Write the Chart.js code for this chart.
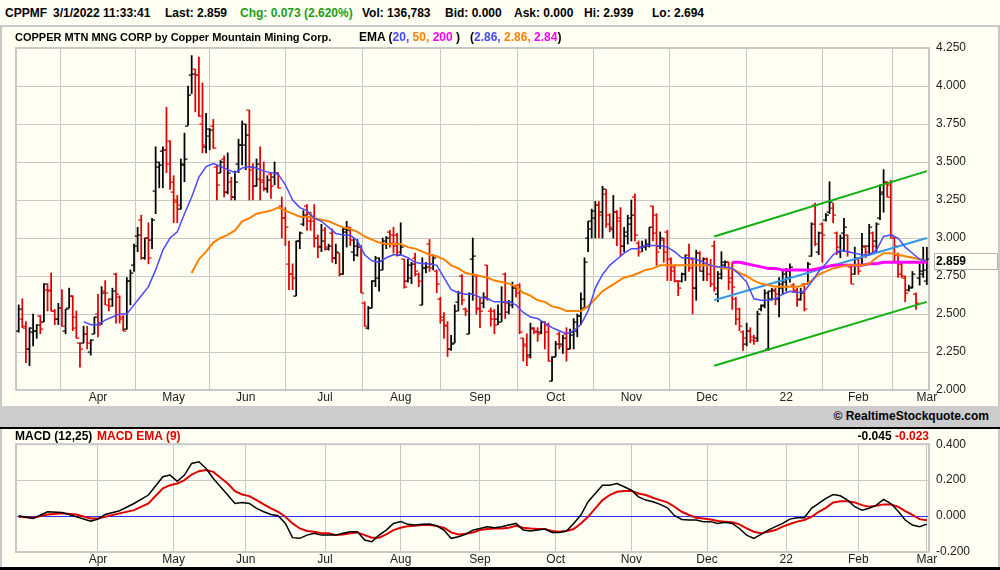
<!DOCTYPE html>
<html>
<head>
<meta charset="utf-8">
<script src="https://cdn.jsdelivr.net/npm/chart.js@4.4.1/dist/chart.umd.min.js"></script>
<style>
  body { margin: 0; width: 1000px; height: 570px; overflow: hidden; position: relative;
         background: #fffff4; font-family: "Liberation Sans", Arial, sans-serif; }
  .t { position: absolute; font-weight: bold; font-size: 12px; line-height: 14px; white-space: nowrap; color: #000; }
  .box { position: absolute; }
  canvas { position: absolute; left: 0; }
</style>
</head>
<body>
<div class="box" style="left:0;top:25px;width:1000px;height:2px;background:#c8c8c8"></div>
<div class="box" style="left:0;top:27px;width:2px;height:379px;background:#c8c8c8"></div>
<div class="box" style="left:998px;top:27px;width:2px;height:379px;background:#c8c8c8"></div>
<div class="box" style="left:0;top:406px;width:1000px;height:21px;background:#cccccc"></div>
<div class="box" style="left:0;top:427px;width:1000px;height:2px;background:#000"></div>
<div class="box" style="left:0;top:429px;width:2px;height:138px;background:#c8c8c8"></div>
<div class="box" style="left:998px;top:429px;width:2px;height:138px;background:#c8c8c8"></div>
<div class="box" style="left:0;top:567px;width:1000px;height:3px;background:#000"></div>

<canvas id="main" width="1000" height="378" style="top:28px"></canvas>
<canvas id="macd" width="1000" height="137" style="top:430px"></canvas>

<div class="t" style="left:5px;top:6px">CPPMF</div>
<div class="t" style="left:53px;top:6px">3/1/2022 11:33:41</div>
<div class="t" style="left:165px;top:6px">Last: 2.859</div>
<div class="t" style="left:240px;top:6px;color:#1a9e1a">Chg: 0.073 (2.620%)</div>
<div class="t" style="left:362px;top:6px">Vol: 136,783</div>
<div class="t" style="left:445px;top:6px">Bid: 0.000</div>
<div class="t" style="left:514px;top:6px">Ask: 0.000</div>
<div class="t" style="left:584px;top:6px">Hi: 2.939</div>
<div class="t" style="left:652px;top:6px">Lo: 2.694</div>

<div class="t" style="left:15px;top:30px;font-size:11px">COPPER MTN MNG CORP by Copper Mountain Mining Corp.</div>
<div class="t" style="left:359px;top:30px">EMA (<span style="color:#4646ff">20,</span> <span style="color:#ff8000">50,</span> <span style="color:#ff00ff">200</span> )
  &nbsp;&nbsp;(<span style="color:#4646ff">2.86,</span> <span style="color:#ff8000">2.86,</span> <span style="color:#ff00ff">2.84</span>)</div>

<div class="t" style="right:11px;top:409px">© RealtimeStockquote.com</div>

<div class="t" style="left:15px;top:429px">MACD (12,25)</div>
<div class="t" style="left:97px;top:429px;color:#e00000">MACD EMA (9)</div>
<div class="t" style="right:71px;top:429px">-0.045 <span style="color:#e00000">-0.023</span></div>

<script>
Chart.defaults.font.family = '"Liberation Sans", Arial, sans-serif';
Chart.defaults.font.size = 12;
Chart.defaults.color = '#222';

// trading-day index of each month start, and its label
const monthDays = [22, 43, 63, 85, 106, 128, 149, 170, 191, 213, 233, 252];
const monthNames = ['Apr', 'May', 'Jun', 'Jul', 'Aug', 'Sep', 'Oct', 'Nov', 'Dec', '22', 'Feb', 'Mar'];

// daily OHLC, Mar 2021 - Mar 1 2022
const opens = [
  2.39,2.47,2.41,2.27,2.38,2.39,2.49,2.45,2.66,2.66, 2.52,2.47,2.54,2.39,2.54,2.62,2.41,2.31,2.31,2.37,
  2.25,2.37,2.50,2.44,2.65,2.56,2.60,2.76,2.61,2.48, 2.40,2.72,2.82,3.01,3.12,2.87,3.00,2.99,3.31,3.47,
  3.57,3.58,3.64,3.30,3.24,3.19,3.48,3.74,4.07,4.11, 4.07,3.75,3.60,3.67,3.74,3.47,3.43,3.52,3.30,3.37,
  3.27,3.49,3.61,3.61,3.84,3.47,3.34,3.39,3.38,3.32, 3.42,3.40,3.43,3.21,3.13,2.83,2.76,2.62,2.98,3.09,
  3.21,3.16,3.13,3.00,2.94,3.05,2.93,3.03,2.87,2.90, 2.76,3.04,3.07,2.91,2.89,2.95,2.57,2.41,2.54,2.72,
  2.74,2.79,2.96,3.04,3.02,3.02,2.89,2.86,2.72,2.74, 2.87,2.76,2.56,2.80,2.96,2.83,2.78,2.60,2.46,2.43,
  2.27,2.31,2.58,2.75,2.53,2.37,2.86,2.75,2.53,2.57, 2.82,2.52,2.52,2.47,2.45,2.76,2.51,2.56,2.68,2.69,
  2.34,2.29,2.23,2.40,2.39,2.38,2.45,2.43,2.06,2.22, 2.37,2.30,2.37,2.27,2.36,2.39,2.49,2.54,3.00,3.06,
  3.13,3.22,3.17,3.29,3.15,3.06,3.17,3.13,2.95,3.01, 3.13,3.27,2.97,2.94,2.94,2.95,3.21,3.15,2.95,2.99,
  3.04,2.86,2.81,2.72,2.72,2.76,2.89,2.86,2.67,2.90, 2.78,2.86,2.82,2.95,2.63,2.76,2.82,2.84,2.74,2.60,
  2.53,2.38,2.30,2.39,2.35,2.34,2.53,2.56,2.27,2.60, 2.65,2.60,2.67,2.71,2.74,2.69,2.66,2.60,2.70,2.70,
  2.88,3.22,2.91,3.09,3.12,3.17,3.20,3.03,2.91,3.03, 3.02,2.81,2.76,2.86,2.87,2.94,2.95,3.03,2.98,3.13,
  3.30,3.37,3.35,3.00,2.89,2.83,2.74,2.66,2.68,2.63, 2.74,2.76,2.72
];
const highs = [
  2.56,2.60,2.45,2.41,2.50,2.43,2.49,2.70,2.70,2.77, 2.53,2.57,2.66,2.53,2.67,2.62,2.52,2.31,2.42,2.42,
  2.33,2.48,2.63,2.68,2.72,2.60,2.67,2.77,2.62,2.49, 2.74,2.79,2.96,3.07,3.15,3.00,3.10,3.13,3.60,3.50,
  3.60,3.86,3.64,3.41,3.28,3.52,3.69,4.00,4.20,4.11, 4.19,4.02,3.82,3.72,3.78,3.48,3.51,3.54,3.56,3.40,
  3.44,3.65,3.77,3.75,3.84,3.49,3.52,3.60,3.50,3.41, 3.43,3.50,3.43,3.27,3.20,2.98,2.83,2.98,3.04,3.18,
  3.22,3.17,3.22,3.02,3.09,3.07,2.96,3.06,2.96,2.90, 3.07,3.11,3.07,3.00,2.99,2.95,2.58,2.55,2.72,2.88,
  2.87,3.00,3.01,3.05,3.07,3.03,3.10,2.86,2.86,2.84, 2.90,2.77,2.87,2.84,2.99,2.89,2.79,2.61,2.51,2.45,
  2.36,2.56,2.65,2.76,2.54,2.64,3.00,2.76,2.61,2.64, 2.82,2.54,2.53,2.56,2.68,2.77,2.59,2.71,2.69,2.70,
  2.34,2.37,2.44,2.41,2.41,2.45,2.45,2.44,2.22,2.32, 2.38,2.36,2.41,2.40,2.47,2.50,2.64,2.87,3.11,3.19,
  3.24,3.24,3.34,3.32,3.16,3.28,3.18,3.20,3.07,3.15, 3.25,3.29,2.98,2.98,2.99,3.07,3.21,3.16,3.04,3.00,
  3.05,2.87,2.82,2.72,2.77,2.89,2.96,2.87,2.92,2.91, 2.87,2.87,2.86,2.98,2.78,2.91,2.85,2.84,2.84,2.61,
  2.54,2.39,2.44,2.41,2.36,2.52,2.56,2.66,2.65,2.67, 2.67,2.74,2.79,2.80,2.83,2.70,2.67,2.67,2.70,2.84,
  3.10,3.23,3.04,3.10,3.16,3.37,3.23,3.04,3.02,3.13, 3.02,2.82,2.94,2.87,3.03,2.95,3.09,3.04,3.10,3.35,
  3.45,3.37,3.38,3.01,2.90,2.84,2.75,2.69,2.78,2.64, 2.83,2.94,2.939
];
const lows = [
  2.38,2.41,2.18,2.16,2.29,2.34,2.37,2.45,2.52,2.52, 2.43,2.43,2.42,2.37,2.54,2.39,2.34,2.15,2.31,2.27,
  2.23,2.37,2.35,2.43,2.56,2.52,2.55,2.44,2.44,2.39, 2.40,2.56,2.78,2.91,2.86,2.86,2.83,2.93,3.16,3.33,
  3.33,3.43,3.32,3.10,3.10,3.19,3.37,3.74,3.95,3.83, 3.80,3.56,3.56,3.58,3.59,3.25,3.43,3.27,3.29,3.25,
  3.25,3.43,3.48,3.45,3.25,3.25,3.34,3.25,3.31,3.30, 3.26,3.35,3.33,3.00,2.95,2.66,2.66,2.62,2.93,3.08,
  3.05,3.05,2.94,2.87,2.91,2.92,2.92,2.84,2.83,2.75, 2.76,2.94,2.95,2.85,2.88,2.64,2.42,2.40,2.54,2.68,
  2.65,2.79,2.93,2.94,2.90,2.88,2.89,2.67,2.71,2.70, 2.75,2.68,2.56,2.77,2.78,2.79,2.64,2.44,2.34,2.22,
  2.26,2.31,2.52,2.56,2.49,2.37,2.59,2.50,2.41,2.54, 2.59,2.42,2.37,2.43,2.45,2.47,2.50,2.54,2.61,2.37,
  2.19,2.16,2.21,2.37,2.32,2.37,2.27,2.19,2.06,2.22, 2.27,2.24,2.19,2.27,2.27,2.35,2.43,2.54,2.91,3.00,
  3.00,3.00,3.00,3.07,3.04,3.00,2.95,2.88,2.91,2.96, 2.98,2.98,2.88,2.91,2.92,2.94,2.98,2.82,2.93,2.84,
  2.72,2.72,2.71,2.62,2.71,2.72,2.78,2.50,2.59,2.78, 2.72,2.72,2.68,2.65,2.58,2.73,2.81,2.66,2.53,2.43,
  2.39,2.26,2.29,2.31,2.30,2.32,2.52,2.54,2.26,2.59, 2.56,2.48,2.63,2.65,2.71,2.64,2.55,2.59,2.52,2.70,
  2.88,2.95,2.89,2.84,3.11,3.16,3.10,2.89,2.87,2.91, 2.88,2.70,2.76,2.76,2.82,2.87,2.89,2.91,2.91,3.12,
  3.17,3.27,3.00,2.85,2.74,2.74,2.58,2.65,2.67,2.53, 2.69,2.74,2.694
];
const closes = [
  2.53,2.42,2.27,2.41,2.39,2.43,2.40,2.70,2.65,2.52, 2.47,2.54,2.42,2.53,2.62,2.48,2.34,2.27,2.37,2.31,
  2.33,2.48,2.43,2.64,2.64,2.55,2.65,2.63,2.47,2.39, 2.72,2.77,2.95,3.02,2.87,3.00,2.87,3.12,3.50,3.48,
  3.58,3.49,3.37,3.25,3.22,3.49,3.52,3.94,4.08,4.07, 3.80,3.61,3.72,3.71,3.59,3.35,3.50,3.30,3.43,3.27,
  3.37,3.61,3.75,3.68,3.45,3.34,3.49,3.37,3.33,3.38, 3.34,3.43,3.33,3.13,3.07,2.76,2.74,2.98,3.03,3.15,
  3.11,3.11,3.00,2.95,2.98,2.94,2.95,2.87,2.91,2.76, 3.06,3.05,2.99,2.95,2.94,2.64,2.42,2.54,2.72,2.87,
  2.85,2.98,3.00,2.97,2.95,2.91,2.94,2.68,2.82,2.83, 2.78,2.72,2.80,2.81,2.80,2.87,2.70,2.48,2.42,2.27,
  2.30,2.52,2.64,2.59,2.52,2.63,2.88,2.54,2.52,2.61, 2.60,2.47,2.43,2.50,2.58,2.57,2.58,2.67,2.64,2.38,
  2.30,2.22,2.41,2.38,2.37,2.45,2.38,2.19,2.22,2.30, 2.29,2.34,2.27,2.38,2.45,2.49,2.60,2.84,3.11,3.18,
  3.22,3.15,3.32,3.09,3.07,3.17,3.11,2.95,3.04,3.09, 3.15,3.02,2.91,2.95,2.96,3.07,3.03,2.91,3.00,2.91,
  2.82,2.78,2.72,2.67,2.76,2.87,2.80,2.67,2.90,2.85, 2.86,2.76,2.70,2.67,2.74,2.84,2.84,2.71,2.68,2.47,
  2.42,2.34,2.39,2.33,2.32,2.50,2.55,2.64,2.65,2.66, 2.63,2.70,2.76,2.78,2.81,2.65,2.59,2.64,2.53,2.83,
  3.09,2.96,3.03,3.02,3.15,3.24,3.15,2.94,3.00,3.07, 2.91,2.70,2.87,2.78,2.95,2.91,3.07,2.95,3.09,3.29,
  3.37,3.27,3.02,2.95,2.76,2.75,2.64,2.67,2.76,2.57, 2.78,2.79,2.859
];

// moving averages read every 2nd trading day
const emaStep = 2;
const ema20Start = 18;
const ema20 = [
  2.45,2.43,2.43,2.46,2.48,2.50,2.50,2.56,2.62,2.68, 2.79,2.92,3.00,3.04,3.16,3.27,3.40,3.47,3.49,3.47,
  3.45,3.43,3.46,3.47,3.46,3.44,3.43,3.42,3.35,3.25, 3.20,3.18,3.13,3.11,3.07,3.03,3.02,3.02,2.98,2.89,
  2.85,2.84,2.87,2.89,2.89,2.87,2.84,2.83,2.83,2.82, 2.74,2.66,2.64,2.63,2.63,2.61,2.60,2.58,2.58,2.58,
  2.56,2.51,2.48,2.47,2.44,2.41,2.39,2.37,2.39,2.43, 2.52,2.67,2.76,2.82,2.86,2.90,2.93,2.93,2.95,2.95,
  2.95,2.94,2.91,2.87,2.87,2.86,2.84,2.82,2.81,2.81, 2.80,2.76,2.71,2.60,2.59,2.59,2.60,2.63,2.65,2.64,
  2.65,2.71,2.78,2.83,2.89,2.92,2.91,2.90,2.89,2.89, 2.92,3.01,3.02,3.00,2.94,2.90,2.86,2.85
];
const ema50Start = 48;
const ema50 = [
  2.77,2.86,2.91,2.97,3.00,3.02,3.05,3.11,3.13,3.16, 3.17,3.18,3.20,3.18,3.16,3.14,3.14,3.13,3.12,3.11,
  3.09,3.07,3.06,3.04,3.01,2.99,2.97,2.96,2.96,2.96, 2.94,2.93,2.91,2.89,2.88,2.86,2.82,2.80,2.77,2.76,
  2.75,2.74,2.72,2.71,2.70,2.68,2.64,2.62,2.59,2.58, 2.55,2.54,2.52,2.52,2.52,2.55,2.60,2.65,2.68,2.71,
  2.74,2.75,2.77,2.79,2.80,2.82,2.82,2.82,2.82,2.82, 2.82,2.82,2.82,2.81,2.80,2.80,2.77,2.75,2.72,2.70,
  2.69,2.68,2.68,2.68,2.68,2.69,2.72,2.76,2.78,2.80, 2.81,2.82,2.82,2.82,2.83,2.87,2.90,2.90,2.89,2.88,
  2.87,2.86,2.85
];
const ema200Start = 198;
const ema200 = [
  2.84,2.84,2.83,2.82,2.81,2.80,2.80,2.79,2.79,2.79, 2.79,2.79,2.80,2.81,2.82,2.82,2.82,2.82,2.82,2.83,
  2.83,2.84,2.84,2.84,2.84,2.84,2.84,2.84
];

// trend channel drawn on the chart
const channelDays = [193, 252];
const channelUpper = [3.01, 3.44];
const channelMid = [2.59, 3.00];
const channelLower = [2.16, 2.58];

// MACD panel
const macdDays = [0,4,8,12,16,20,22,24,28,32,36,
  40,42,44,46,48,50,52,54,56,58, 60,62,64,66,68,70,72,74,76,78, 80,82,84,86,88,90,92,94,96,98,
  100,102,104,106,108,110,112,114,116,118, 120,122,124,126,128,130,132,134,136,138,
  140,142,144,146,148,150,152,154,156,158, 160,162,164,166,168,170,172,174,176,178,
  180,182,184,186,188,190,192,194,196,198, 200,202,204,206,208,210,212,214,216,218,
  220,222,224,226,228,230,232,234,236,238, 240,242,244,246,248,250,252];
const macdLine = [0.002,-0.013,0.024,0.020,-0.004,-0.028,-0.017,0.009,0.030,0.070,0.117,
  0.219,0.228,0.194,0.228,0.293,0.302,0.265,0.209,0.163,0.117, 0.070,0.076,0.070,0.043,0.024,0.009,0.002,-0.041,-0.120,-0.124,
  -0.106,-0.096,-0.106,-0.106,-0.106,-0.096,-0.087,-0.087,-0.133,-0.143, -0.106,-0.078,-0.041,-0.031,-0.046,-0.050,-0.046,-0.044,-0.054,-0.078,
  -0.124,-0.115,-0.102,-0.078,-0.069,-0.059,-0.065,-0.059,-0.050,-0.041, -0.078,-0.083,-0.078,-0.072,-0.091,-0.091,-0.083,-0.041,0.006,0.080,
  0.126,0.172,0.172,0.181,0.163,0.144,0.107,0.089,0.080,0.065, 0.046,0.002,-0.019,-0.022,-0.022,-0.031,-0.031,-0.041,-0.035,-0.041,
  -0.069,-0.106,-0.124,-0.102,-0.078,-0.059,-0.041,-0.017,-0.009,-0.009, 0.043,0.070,0.098,0.120,0.113,0.089,0.052,0.033,0.043,0.061,
  0.093,0.070,0.028,-0.022,-0.050,-0.059,-0.045];
const macdSignal = [-0.004,-0.009,0.009,0.015,0.009,-0.013,-0.013,-0.004,0.015,0.033,0.070,
  0.154,0.172,0.181,0.200,0.231,0.250,0.256,0.246,0.213,0.181, 0.139,0.120,0.111,0.089,0.065,0.043,0.024,-0.004,-0.041,-0.069,
  -0.083,-0.087,-0.096,-0.096,-0.106,-0.102,-0.096,-0.091,-0.106,-0.120, -0.120,-0.102,-0.078,-0.065,-0.056,-0.054,-0.050,-0.050,-0.056,-0.065,
  -0.091,-0.102,-0.098,-0.091,-0.078,-0.072,-0.069,-0.069,-0.065,-0.054, -0.065,-0.069,-0.072,-0.072,-0.083,-0.087,-0.083,-0.072,-0.041,-0.004,
  0.043,0.089,0.117,0.135,0.139,0.141,0.126,0.117,0.102,0.089, 0.076,0.052,0.024,0.006,-0.009,-0.013,-0.019,-0.028,-0.031,-0.035,
  -0.046,-0.069,-0.087,-0.096,-0.087,-0.078,-0.059,-0.044,-0.031,-0.022, -0.004,0.024,0.046,0.076,0.083,0.083,0.076,0.061,0.052,0.057,
  0.065,0.065,0.052,0.028,0.006,-0.017,-0.023];

const GRID = '#c8c8c8';
const UP = '#000000', DOWN = '#e00000';
const barColors = closes.map((c, i) => c >= opens[i] ? UP : DOWN);

const series = (start, vals) => vals.map((v, k) => ({ x: start + k * emaStep, y: v }));
const pairs = (xs, ys) => xs.map((x, k) => ({ x: x, y: ys[k] }));

const xAxis = () => ({
  type: 'linear', min: -0.75, max: 252.6, offset: false,
  afterBuildTicks: s => { s.ticks = monthDays.map(v => ({ value: v })); },
  ticks: { autoSkip: false, maxRotation: 0, padding: 0, callback: (v, i) => monthNames[i] },
  grid: { color: GRID, drawTicks: false },
  border: { display: false },
  afterFit: s => { s.height = s.chart.canvas.id === 'main' ? 16 : 15; }
});

// frame round the plot area
const frame = {
  id: 'frame',
  beforeDatasetsDraw(chart) {
    const a = chart.chartArea, ctx = chart.ctx;
    ctx.save();
    ctx.strokeStyle = GRID;
    ctx.lineWidth = 2;
    ctx.strokeRect(a.left, a.top, a.right - a.left, a.bottom - a.top);
    ctx.restore();
  }
};

// open tick on the left, close tick on the right of each bar
const ohlcTicks = {
  id: 'ohlcTicks',
  afterDatasetDraw(chart, args) {
    if (args.index !== 0) return;
    const ctx = chart.ctx, ys = chart.scales.y, a = chart.chartArea;
    const bars = args.meta.data;
    ctx.save();
    ctx.beginPath();
    ctx.rect(a.left, a.top, a.right - a.left, a.bottom - a.top);
    ctx.clip();
    bars.forEach((b, i) => {
      ctx.fillStyle = barColors[i];
      const yo = Math.round(ys.getPixelForValue(opens[i]));
      const yc = Math.round(ys.getPixelForValue(closes[i]));
      ctx.fillRect(b.x - 3, yo - 0.5, 3, 1.2);
      ctx.fillRect(b.x, yc - 0.5, 3, 1.2);
    });
    ctx.restore();
  }
};

// last price boxed on the right axis
const lastBox = {
  id: 'lastBox',
  afterDraw(chart) {
    const ctx = chart.ctx, a = chart.chartArea;
    const last = closes[closes.length - 1];
    const y = Math.round(chart.scales.y.getPixelForValue(last));
    ctx.save();
    ctx.fillStyle = '#fffff4';
    ctx.fillRect(a.right + 5, y - 6, 64, 17);
    ctx.strokeStyle = '#b4b4b4';
    ctx.lineWidth = 1;
    ctx.strokeRect(a.right + 5.5, y - 5.5, 63, 16);
    ctx.fillStyle = '#000';
    ctx.font = 'bold 12px "Liberation Sans", Arial, sans-serif';
    ctx.textBaseline = 'middle';
    ctx.fillText(last.toFixed(3), a.right + 7, y + 3);
    ctx.restore();
  }
};

const lineStyle = (color, width) => ({
  type: 'line', borderColor: color, borderWidth: width, pointRadius: 0, tension: 0, order: 0
});

new Chart(document.getElementById('main'), {
  type: 'bar',
  data: {
    datasets: [
      { type: 'bar', data: lows.map((l, i) => ({ x: i, y: [l, highs[i]] })),
        backgroundColor: barColors, barThickness: 1.1, order: 5 },
      Object.assign(lineStyle('#4a4aff', 1.5), { data: series(ema20Start, ema20) }),
      Object.assign(lineStyle('#ff8000', 2), { data: series(ema50Start, ema50) }),
      Object.assign(lineStyle('#ff00ff', 3), { data: series(ema200Start, ema200) }),
      Object.assign(lineStyle('#3399e6', 2), { data: pairs(channelDays, channelMid) }),
      Object.assign(lineStyle('#10b010', 2), { data: pairs(channelDays, channelUpper) }),
      Object.assign(lineStyle('#10b010', 2), { data: pairs(channelDays, channelLower) })
    ]
  },
  options: {
    responsive: false, animation: false, devicePixelRatio: 1, events: [],
    layout: { padding: { left: 16, top: 20, right: 0, bottom: 0 } },
    plugins: { legend: { display: false }, tooltip: { enabled: false } },
    scales: {
      x: xAxis(),
      y: {
        type: 'linear', position: 'right', min: 2, max: 4.25,
        ticks: { stepSize: 0.25, padding: 7, callback: v => v.toFixed(3) },
        grid: { color: GRID, drawTicks: false },
        border: { display: false },
        afterFit: s => { s.width = 71; }
      }
    }
  },
  plugins: [frame, ohlcTicks, lastBox]
});

new Chart(document.getElementById('macd'), {
  type: 'line',
  data: {
    datasets: [
      Object.assign(lineStyle('#000000', 1.5), { data: pairs(macdDays, macdLine) }),
      Object.assign(lineStyle('#e00000', 2), { data: pairs(macdDays, macdSignal), order: 1 })
    ]
  },
  options: {
    responsive: false, animation: false, devicePixelRatio: 1, events: [],
    layout: { padding: { left: 16, top: 14, right: 0, bottom: 0 } },
    plugins: { legend: { display: false }, tooltip: { enabled: false } },
    scales: {
      x: xAxis(),
      y: {
        type: 'linear', position: 'right', min: -0.2, max: 0.4,
        ticks: { stepSize: 0.2, padding: 7, callback: v => v.toFixed(3) },
        grid: { color: c => Math.abs(c.tick.value) < 1e-9 ? '#3030ff' : GRID, drawTicks: false },
        border: { display: false },
        afterFit: s => { s.width = 71; }
      }
    }
  },
  plugins: [frame]
});
</script>
</body>
</html>
